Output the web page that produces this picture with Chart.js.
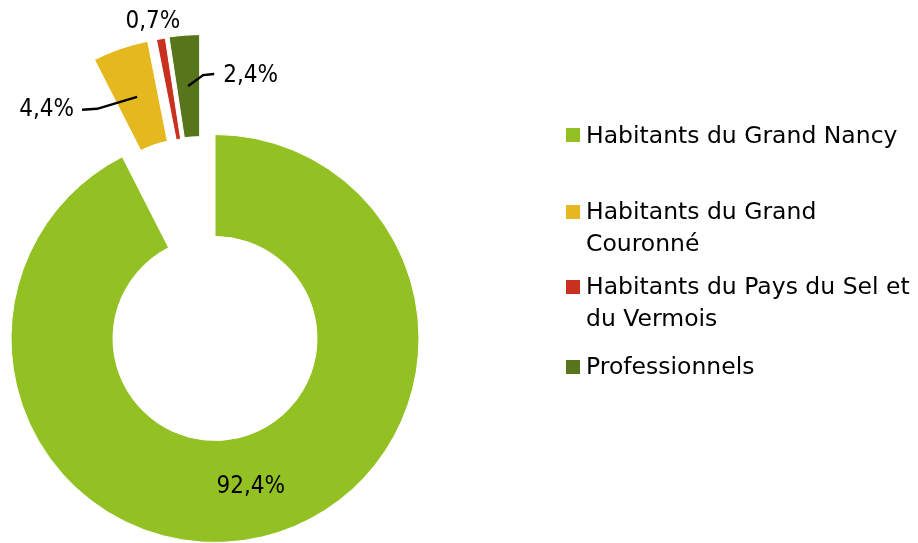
<!DOCTYPE html>
<html><head><meta charset="utf-8">
<script src="https://cdn.jsdelivr.net/npm/chart.js@4/dist/chart.umd.min.js"></script>
<style>
html,body{margin:0;padding:0;background:#fff;}
#wrap{position:relative;width:918px;height:543px;overflow:hidden;}
#c{position:absolute;left:0;top:0;}
#legend{position:absolute;left:566px;top:0;width:352px;height:543px;font-family:'DejaVu Sans',sans-serif;font-size:23.5px;color:#000;}
.item{position:absolute;left:0;width:334px;line-height:31.5px;padding-left:20px;}
.sw{position:absolute;left:0;top:8.5px;width:14px;height:14px;}
</style></head>
<body><div id="wrap"><canvas id="c" width="918" height="543"></canvas><div id="legend"></div></div>
<script>
const categories = ['Habitants du Grand Nancy', 'Habitants du Grand Couronné', 'Habitants du Pays du Sel et du Vermois', 'Professionnels'];
const shares = [92.4, 4.4, 0.7, 2.4];
const valueLabels = ['92,4%', '4,4%', '0,7%', '2,4%'];
const colors = ['#93C123', '#E6B820', '#C9301E', '#57761B'];
const explode = [0, 101, 100.5, 101];
const explodeTurnDeg = [0, 3.1, -1.0, -4.4];
const labelModes = ['inside', 'leaderLeft', 'above', 'leaderRight'];
const legendTops = [119.5, 196, 271, 351];

const labelFont = '24px "DejaVu Sans Condensed", "DejaVu Sans", sans-serif';

function shiftOf(arc, i) {
  const p = arc.getProps(['startAngle', 'endAngle']);
  const dir = (p.startAngle + p.endAngle) / 2 + explodeTurnDeg[i] * Math.PI / 180;
  return [Math.cos(dir) * explode[i], Math.sin(dir) * explode[i]];
}

const explodePlugin = {
  id: 'explodeDraw',
  beforeDatasetDraw(chart, args) {
    const ctx = chart.ctx;
    args.meta.data.forEach((arc, i) => {
      const [dx, dy] = shiftOf(arc, i);
      ctx.save();
      ctx.translate(dx, dy);
      arc.draw(ctx, chart.chartArea);
      ctx.restore();
    });
    return false;
  },
  afterDatasetsDraw(chart) {
    const ctx = chart.ctx;
    const meta = chart.getDatasetMeta(0);
    ctx.save();
    ctx.font = labelFont;
    ctx.fillStyle = '#000';
    ctx.strokeStyle = '#000';
    ctx.lineWidth = 2.5;
    meta.data.forEach((arc, i) => {
      const p = arc.getProps(['x', 'y', 'startAngle', 'endAngle', 'innerRadius', 'outerRadius']);
      const mid = (p.startAngle + p.endAngle) / 2;
      const [dx, dy] = shiftOf(arc, i);
      const cx = p.x + dx, cy = p.y + dy;
      const rMid = (p.innerRadius + p.outerRadius) / 2;
      const ax = cx + Math.cos(mid) * rMid;
      const ay = cy + Math.sin(mid) * rMid;
      const mode = labelModes[i];
      if (mode === 'inside') {
        ctx.textAlign = 'center'; ctx.textBaseline = 'middle';
        ctx.fillText(valueLabels[i], ax, ay);
      } else if (mode === 'leaderLeft') {
        const ex = ax - 40, ey = ay + 12;
        ctx.beginPath(); ctx.moveTo(ax, ay); ctx.lineTo(ex, ey); ctx.lineTo(ex - 15, ey + 1); ctx.stroke();
        ctx.textAlign = 'right'; ctx.textBaseline = 'middle';
        ctx.fillText(valueLabels[i], ex - 23, ey + 1);
      } else if (mode === 'leaderRight') {
        const ex = ax + 15, ey = ay - 11;
        ctx.beginPath(); ctx.moveTo(ax, ay); ctx.lineTo(ex, ey); ctx.lineTo(ex + 11, ey - 1); ctx.stroke();
        ctx.textAlign = 'left'; ctx.textBaseline = 'middle';
        ctx.fillText(valueLabels[i], ex + 20, ey + 1);
      } else {
        const ox = cx + Math.cos(mid) * p.outerRadius;
        const oy = cy + Math.sin(mid) * p.outerRadius;
        ctx.textAlign = 'center'; ctx.textBaseline = 'middle';
        ctx.fillText(valueLabels[i], ox - 8, oy - 17);
      }
    });
    ctx.restore();
  }
};

new Chart(document.getElementById('c'), {
  type: 'doughnut',
  data: {
    labels: categories,
    datasets: [{
      data: shares,
      backgroundColor: colors,
      borderColor: '#ffffff',
      borderWidth: 1,
      clip: false
    }]
  },
  options: {
    responsive: false,
    maintainAspectRatio: false,
    animation: false,
    radius: 204,
    cutout: 102,
    layout: { padding: { top: 134, bottom: 0, left: 0, right: 488 } },
    plugins: { legend: { display: false }, tooltip: { enabled: false }, title: { display: false } }
  },
  plugins: [explodePlugin]
});

const legendEl = document.getElementById('legend');
categories.forEach((name, i) => {
  const item = document.createElement('div');
  item.className = 'item';
  item.style.top = legendTops[i] + 'px';
  const sw = document.createElement('span');
  sw.className = 'sw';
  sw.style.background = colors[i];
  item.appendChild(sw);
  item.appendChild(document.createTextNode(name));
  legendEl.appendChild(item);
});
</script>
</body></html>
